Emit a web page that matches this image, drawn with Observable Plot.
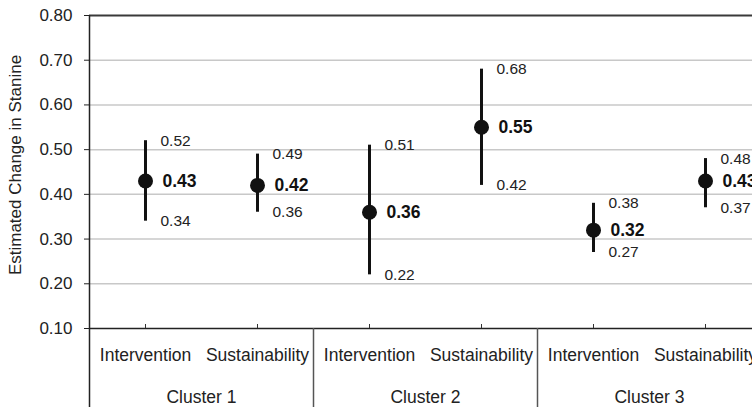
<!DOCTYPE html>
<html>
<head>
<meta charset="utf-8">
<script src="https://cdn.jsdelivr.net/npm/d3@7"></script>
<script src="https://cdn.jsdelivr.net/npm/@observablehq/plot@0.6"></script>
<style>
  html, body { margin: 0; padding: 0; background: #fff; overflow: hidden; }
  #chart { width: 752px; height: 407px; overflow: hidden; }
  #chart svg { display: block; max-width: none !important; }
</style>
</head>
<body>
<div id="chart"></div>
<script>
// ---- data ----
const clusters = ["Cluster 1", "Cluster 2", "Cluster 3"];
const phases = ["Intervention", "Sustainability"];
const estimates = [0.43, 0.42, 0.36, 0.55, 0.32, 0.43];
const lowerCI = [0.34, 0.36, 0.22, 0.42, 0.27, 0.37];
const upperCI = [0.52, 0.49, 0.51, 0.68, 0.38, 0.48];
const yTicks = [0.1, 0.2, 0.3, 0.4, 0.5, 0.6, 0.7, 0.8];
const yTitle = "Estimated Change in Stanine";

// ---- derived table ----
const rows = estimates.map((v, i) => ({
  pos: i + 0.5,
  cluster: clusters[Math.floor(i / phases.length)],
  phase: phases[i % phases.length],
  est: v,
  lo: lowerCI[i],
  hi: upperCI[i]
}));
const clusterRows = clusters.map((c, k) => ({name: c, pos: k * phases.length + phases.length / 2}));
const boundaries = clusters.slice(1).map((c, k) => (k + 1) * phases.length);
const nSlots = clusters.length * phases.length;
const yMin = yTicks[0], yMax = yTicks[yTicks.length - 1];
const titleRow = [{text: yTitle, x: 0, y: (yMin + yMax) / 2}];

// ---- layout ----
const W = 761, H = 407, mL = 89, mR = 0, mT = 15, mB = 79;
const plotH = H - mT - mB;
const fmt = d3.format(".2f");
const font = "'Liberation Sans', Arial, Helvetica, sans-serif";

const chart = Plot.plot({
  width: W,
  height: H,
  marginLeft: mL,
  marginRight: mR,
  marginTop: mT,
  marginBottom: mB,
  style: {fontFamily: font, background: "#fff", overflow: "visible", maxWidth: "none"},
  x: {domain: [0, nSlots], axis: null},
  y: {domain: [yMin, yMax], axis: null},
  marks: [
    // gridlines
    Plot.ruleY(yTicks.slice(1, -1), {stroke: "#c8c8c8", strokeWidth: 1.5}),
    // top border
    Plot.ruleY(yTicks.slice(-1), {stroke: "#3a3a3a", strokeWidth: 2}),
    // baseline
    Plot.ruleY(yTicks.slice(0, 1), {stroke: "#222", strokeWidth: 1.5}),
    // y axis
    Plot.axisY({
      ticks: yTicks,
      tickSize: 5,
      tickPadding: 12,
      tickFormat: fmt,
      fontSize: 17,
      label: null,
      stroke: "#222",
      color: "#222"
    }),
    // left axis line (extends through category area)
    Plot.ruleX([0], {stroke: "#222", strokeWidth: 1.5, insetBottom: -mB}),
    // cluster separators in category area
    Plot.ruleX(boundaries, {stroke: "#555", strokeWidth: 1.5, insetTop: plotH, insetBottom: -mB}),
    // small category ticks
    Plot.ruleX(rows, {x: "pos", stroke: "#333", strokeWidth: 1, insetTop: plotH - 4}),
    // error bars
    Plot.ruleX(rows, {x: "pos", y1: "lo", y2: "hi", stroke: "#111", strokeWidth: 3}),
    // points
    Plot.dot(rows, {x: "pos", y: "est", r: 7.5, fill: "#111", stroke: "none"}),
    // labels
    Plot.text(rows, {x: "pos", y: "hi", text: d => fmt(d.hi), dx: 15, textAnchor: "start", fontSize: 15.5, fill: "#222"}),
    Plot.text(rows, {x: "pos", y: "lo", text: d => fmt(d.lo), dx: 15, textAnchor: "start", fontSize: 15.5, fill: "#222"}),
    Plot.text(rows, {x: "pos", y: "est", text: d => fmt(d.est), dx: 17, textAnchor: "start", fontSize: 17.5, fontWeight: "bold", fill: "#111"}),
    // category labels
    Plot.text(rows, {x: "pos", text: "phase", frameAnchor: "bottom", dy: 32, fontSize: 17.5, fill: "#222"}),
    Plot.text(clusterRows, {x: "pos", text: "name", frameAnchor: "bottom", dy: 74, fontSize: 17.5, fill: "#222"}),
    // y title
    Plot.text(titleRow, {x: "x", y: "y", text: "text", rotate: -90, dx: -74, dy: -7, fontSize: 17, fill: "#222"})
  ]
});
document.getElementById("chart").appendChild(chart);
</script>
</body>
</html>
